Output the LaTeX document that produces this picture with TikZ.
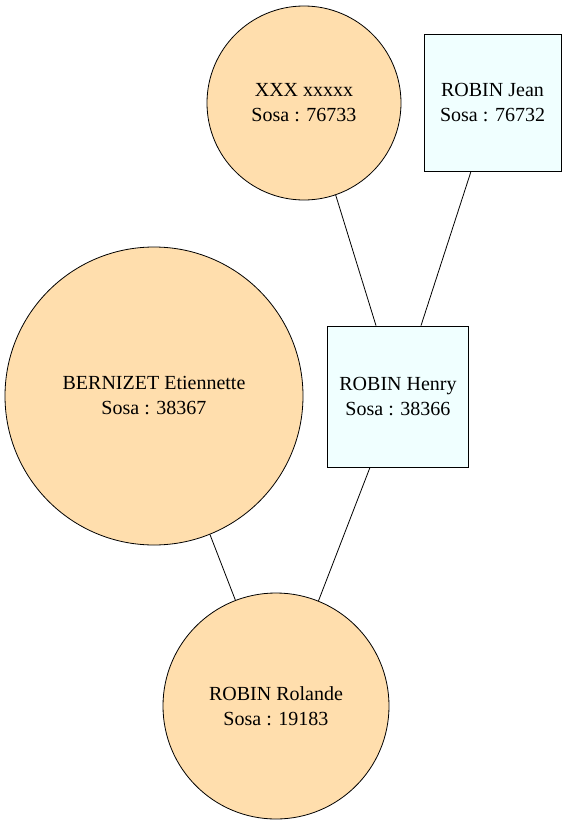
\documentclass[tikz,border=0pt]{standalone}
\usepackage{fontspec}
\setmainfont{Liberation Serif}
\definecolor{circfill}{RGB}{255,222,173}
\definecolor{boxfill}{RGB}{240,255,255}
\begin{document}
\begin{tikzpicture}[x=1pt,y=-1pt,
  person/.style={draw=black,line width=0.8pt,inner sep=0pt,align=center,font=\fontsize{20}{25}\selectfont},
  fem/.style={person,circle,fill=circfill},
  male/.style={person,rectangle,fill=boxfill},
  link/.style={draw=black,line width=0.8pt}]
\useasboundingbox (0,0) rectangle (567,825);
\node[fem,minimum size=194] (xxx) at (304,103) {XXX xxxxx\\Sosa : 76733};
\node[male,minimum size=137] (jean) at (492.5,102.5) {ROBIN Jean\\Sosa : 76732};
\node[fem,minimum size=298] (bern) at (154,396) {BERNIZET Etiennette\\Sosa : 38367};
\node[male,minimum size=141] (henry) at (398,396.5) {ROBIN Henry\\Sosa : 38366};
\node[fem,minimum size=226] (rol) at (276,706) {ROBIN Rolande\\Sosa : 19183};
\draw[link] (xxx.-71.9) -- ([xshift=-22pt]henry.north);
\draw[link] ([xshift=-21.5pt]jean.south) -- ([xshift=23pt]henry.north);
\draw[link] (bern.-68.5) -- (rol.111.3);
\draw[link] ([xshift=-28pt]henry.south) -- (rol.68.5);
\end{tikzpicture}
\end{document}
